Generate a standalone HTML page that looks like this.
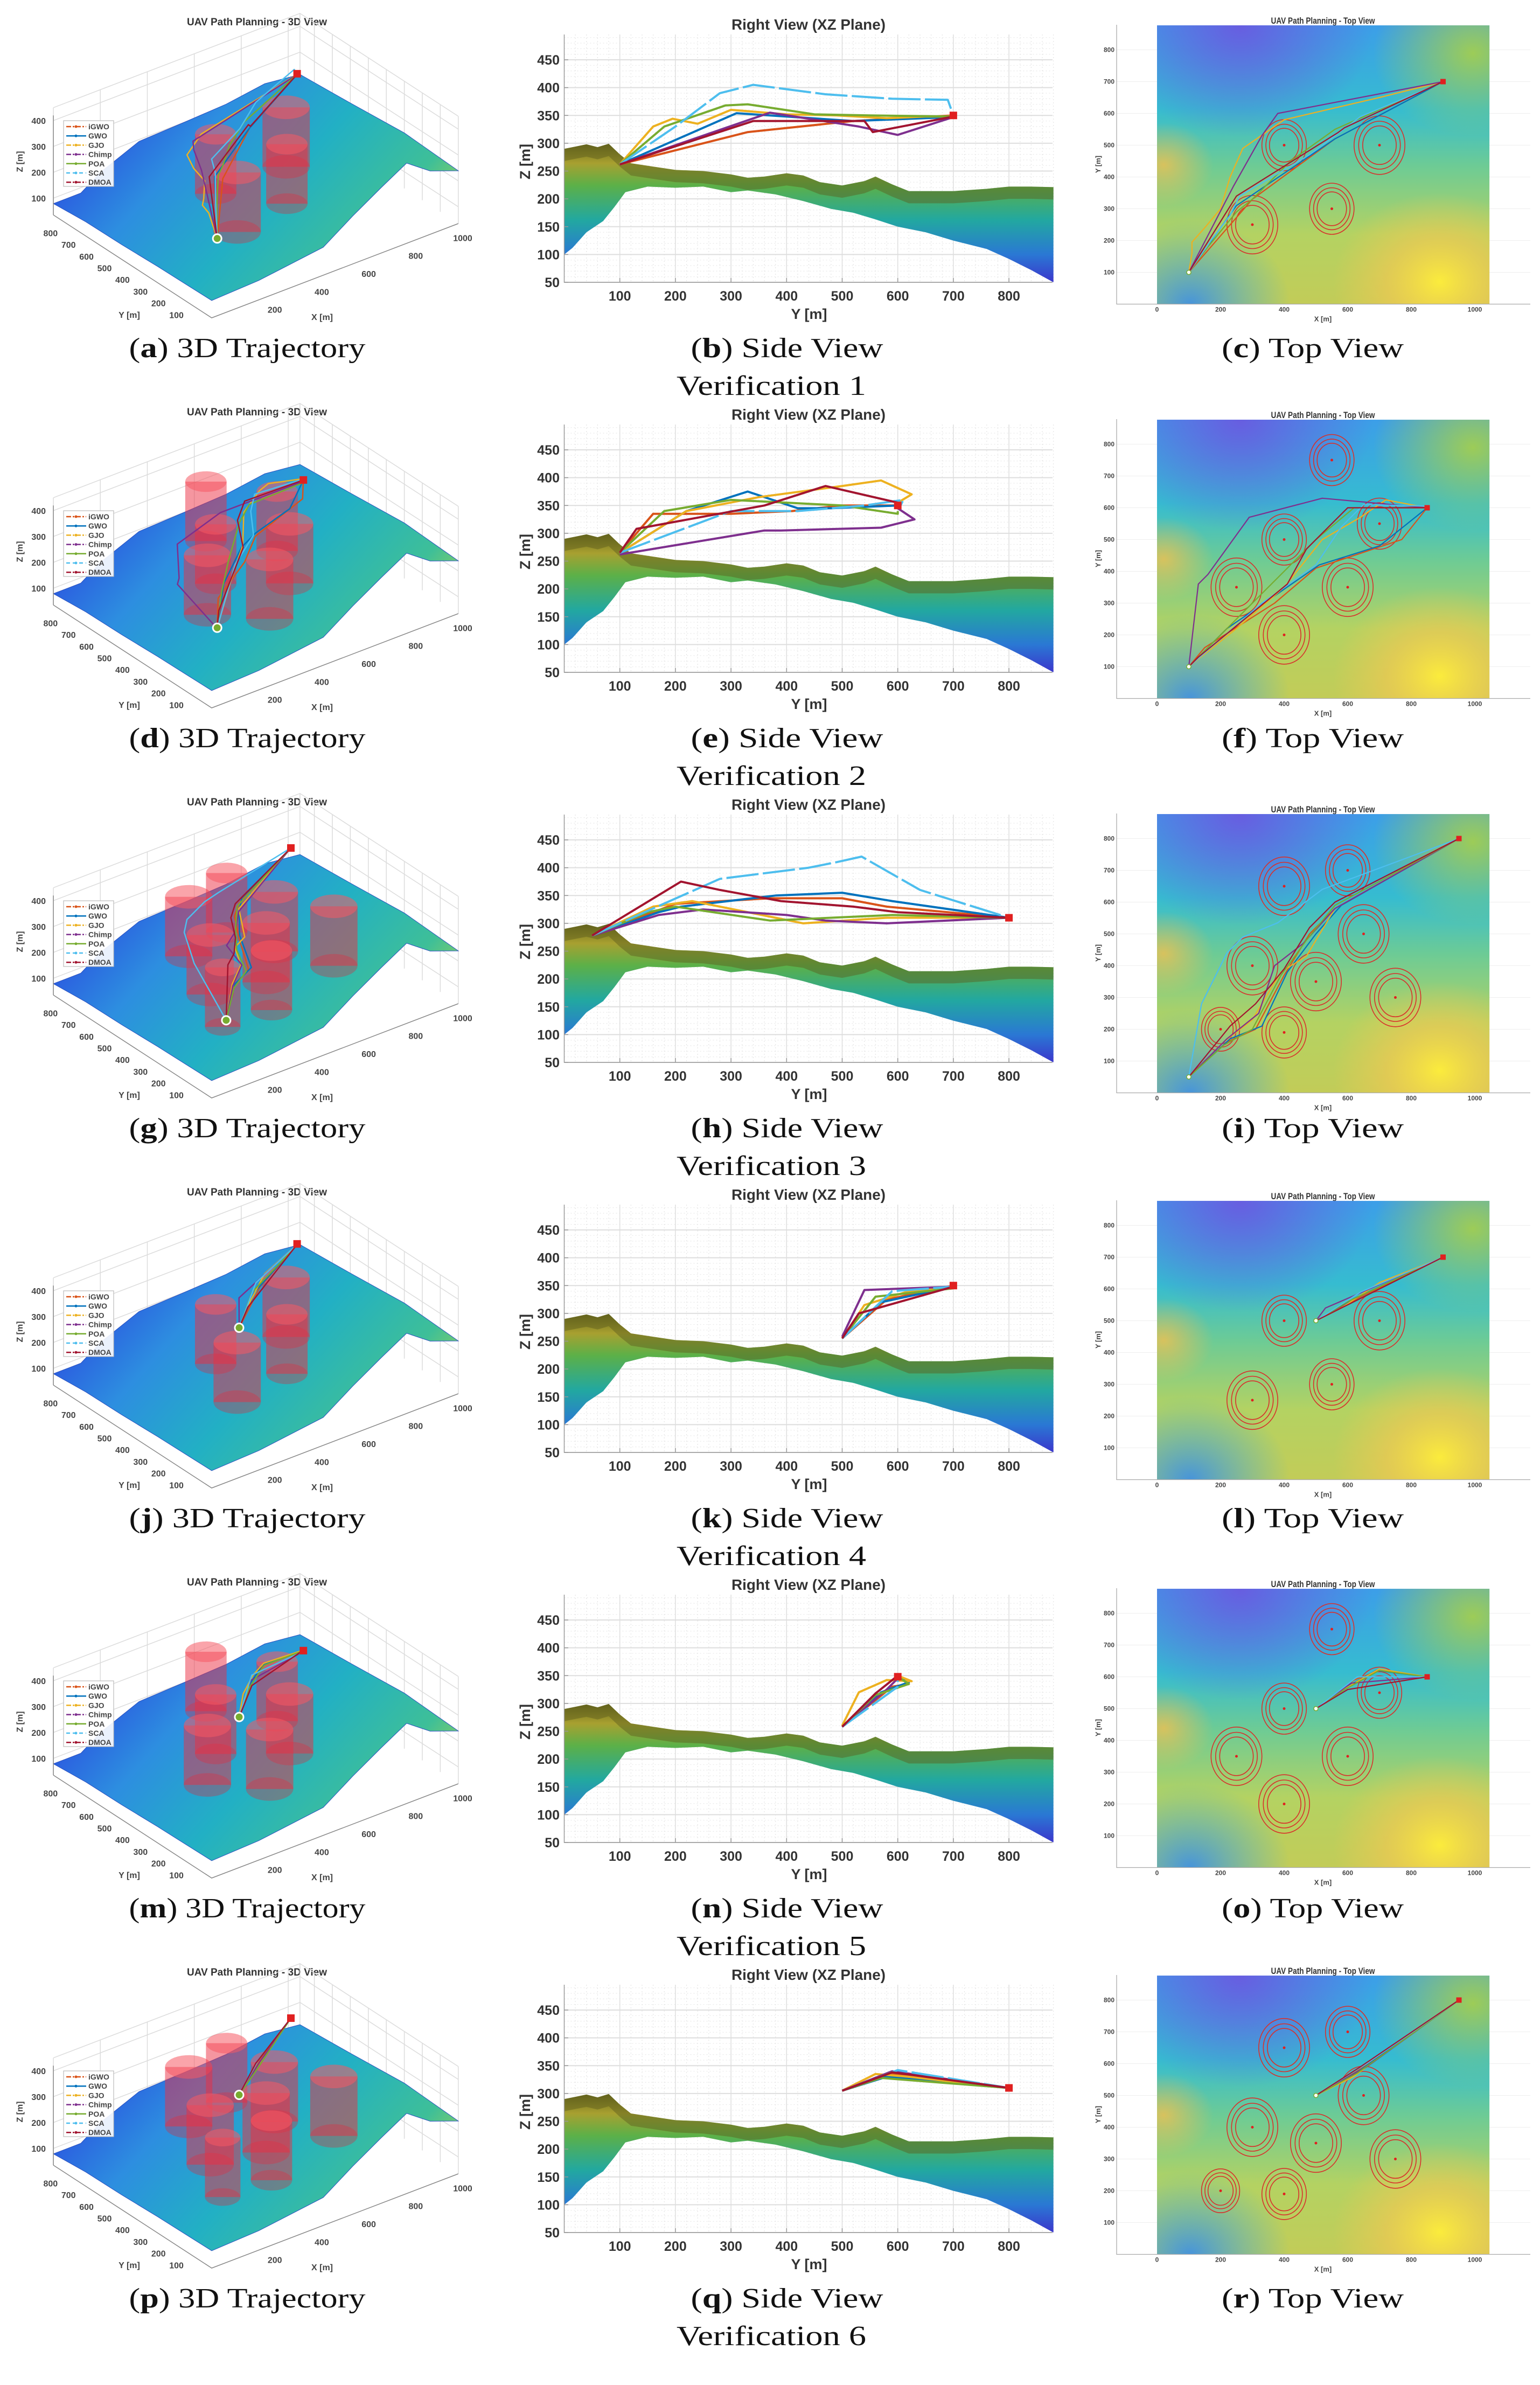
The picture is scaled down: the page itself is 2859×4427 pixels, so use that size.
<!DOCTYPE html>
<html>
<head>
<meta charset="utf-8">
<style>
html,body{margin:0;padding:0;background:#fff;}
svg{display:block;}
</style>
</head>
<body>
<svg id="fig" width="2859" height="4427" viewBox="0 0 2859 4427" xmlns="http://www.w3.org/2000/svg">
<defs>
  <linearGradient id="gSide" x1="0" y1="0" x2="0" y2="1">
    <stop offset="0" stop-color="#6b6a1c"/>
    <stop offset="0.14" stop-color="#a8a030"/>
    <stop offset="0.3" stop-color="#5cb048"/>
    <stop offset="0.55" stop-color="#22a8a0"/>
    <stop offset="0.8" stop-color="#2a78d4"/>
    <stop offset="1" stop-color="#3b36cc"/>
  </linearGradient>
  <linearGradient id="g3d" x1="0" y1="0.25" x2="1" y2="0.75">
    <stop offset="0" stop-color="#2a3ee0"/>
    <stop offset="0.3" stop-color="#2d8ee0"/>
    <stop offset="0.55" stop-color="#22b0c4"/>
    <stop offset="0.8" stop-color="#3ebf98"/>
    <stop offset="0.97" stop-color="#b0d646"/>
  </linearGradient>
  <linearGradient id="gTopBase" x1="0" y1="0" x2="0" y2="1">
    <stop offset="0" stop-color="#3c9ee8"/>
    <stop offset="0.3" stop-color="#36bcd0"/>
    <stop offset="0.5" stop-color="#6ccb96"/>
    <stop offset="0.75" stop-color="#b4d262"/>
    <stop offset="1" stop-color="#c2cc58"/>
  </linearGradient>
  <radialGradient id="gPurple" cx="0.25" cy="0" r="0.4">
    <stop offset="0" stop-color="#6a5ae0" stop-opacity="0.95"/>
    <stop offset="1" stop-color="#6a5ae0" stop-opacity="0"/>
  </radialGradient>
  <radialGradient id="gYellow" cx="0.85" cy="0.92" r="0.32">
    <stop offset="0" stop-color="#fbec3c" stop-opacity="1"/>
    <stop offset="0.5" stop-color="#f6c850" stop-opacity="0.6"/>
    <stop offset="1" stop-color="#f6c850" stop-opacity="0"/>
  </radialGradient>
  <radialGradient id="gOrange" cx="0.02" cy="0.5" r="0.15">
    <stop offset="0" stop-color="#f2c050" stop-opacity="0.8"/>
    <stop offset="1" stop-color="#f2c050" stop-opacity="0"/>
  </radialGradient>
  <radialGradient id="gBlueBL" cx="0.1" cy="1" r="0.3">
    <stop offset="0" stop-color="#3a8ee8" stop-opacity="0.9"/>
    <stop offset="1" stop-color="#30b0e0" stop-opacity="0"/>
  </radialGradient>
  <radialGradient id="gGreenTR" cx="0.95" cy="0.1" r="0.3">
    <stop offset="0" stop-color="#a8d048" stop-opacity="0.9"/>
    <stop offset="1" stop-color="#a8d048" stop-opacity="0"/>
  </radialGradient>
</defs>
</svg>
<script>
// ---------- data ----------
const ALGOS = ['iGWO','GWO','GJO','Chimp','POA','SCA','DMOA'];
const COLORS = ['#D95319','#0072BD','#EDB120','#7E2F8E','#77AC30','#4DBEEE','#A2142F'];
const LEGEND_DASH = ['9 3 3 3','','9 3 3 3','9 3 3 3','','7 5','9 3 3 3'];

const sideTicksY = [50,100,150,200,250,300,350,400,450];
const sideTicksX = [100,200,300,400,500,600,700,800];
const topTicksX = [0,200,400,600,800,1000];
const topTicksY = [100,200,300,400,500,600,700,800];
const d3TicksZ = [100,200,300,400];
const d3TicksY = [100,200,300,400,500,600,700,800];
const d3TicksX = [200,400,600,800,1000];

// side-view terrain profile (Y, Z)
const sideTerrainTop = [[0,290],[20,294],[40,298],[60,293],[80,299],[100,280],[120,264],[160,258],[200,252],[250,250],[300,244],[330,238],[360,240],[400,246],[430,242],[460,230],[500,224],[540,232],[560,240],[590,226],[620,214],[700,214],[760,218],[800,222],[840,222],[880,221]];
const sideTerrainBottom = [[880,50],[840,72],[800,92],[760,110],[700,125],[650,140],[600,150],[560,163],[520,175],[480,182],[430,196],[380,208],[330,215],[300,212],[250,222],[200,220],[150,222],[110,212],[90,185],[70,160],[40,140],[15,112],[0,100]];

// 3D terrain boundary (x, y, z)
const terrainEdge = [[0,880,79],[0,700,90],[0,500,92],[0,300,98],[0,150,100],[0,0,102],[200,0,110],[475,0,143],[600,0,220],[720,0,287],[830,0,345],[930,0,280],[1050,0,239],[1050,300,250],[1050,600,230],[1050,880,214],[900,880,230],[736,880,208],[560,880,200],[365,880,193],[200,880,130],[117,880,79]];

// per-row path waypoints [x, y, z] for each algorithm (order = ALGOS)
const paths1 = [
 [[100,100,262],[300,330,320],[560,520,340],[900,700,350]],
 [[100,100,262],[250,310,354],[560,520,340],[900,700,347]],
 [[100,100,262],[110,160,330],[110,195,344],[150,240,335],[200,300,360],[230,400,352],[270,490,350],[400,580,345],[700,650,348],[900,700,348]],
 [[100,100,262],[240,370,355],[330,530,330],[380,600,315],[900,700,347]],
 [[100,100,262],[160,180,330],[250,290,368],[300,330,370],[420,450,352],[560,550,350],[900,700,348]],
 [[100,100,262],[170,200,330],[230,280,390],[260,340,405],[480,470,388],[640,590,380],[880,690,378],[900,700,350]],
 [[100,100,262],[250,340,340],[570,540,340],[590,555,320],[900,700,348]]
];
const paths2 = [
 [[100,100,265],[150,160,335],[370,300,335],[500,410,340],[770,500,350],[850,600,350]],
 [[100,100,265],[220,220,340],[380,330,375],[510,420,345],[700,480,345],[850,600,350]],
 [[100,100,265],[250,220,340],[400,350,365],[520,500,385],[640,570,395],[720,625,370],[850,600,355]],
 [[100,100,262],[130,360,305],[160,390,305],[290,570,310],[520,630,325],[850,600,345]],
 [[100,100,265],[180,180,340],[300,300,360],[500,500,350],[620,600,335],[850,600,340]],
 [[100,100,265],[330,300,340],[500,420,340],[580,540,350],[650,610,360],[850,605,350]],
 [[100,100,265],[130,130,308],[410,360,350],[470,470,385],[600,600,355],[850,600,350]]
];
const paths3 = [
 [[100,50,278],[220,160,320],[310,200,335],[400,370,345],[480,500,345],[560,580,330],[950,800,310]],
 [[100,50,278],[230,170,320],[330,210,330],[410,380,350],[500,500,355],[580,590,340],[950,800,310]],
 [[100,50,278],[210,160,330],[300,230,340],[390,380,310],[470,430,300],[560,580,310],[950,800,310]],
 [[100,50,278],[220,170,315],[320,250,325],[370,400,315],[460,470,305],[560,580,300],[950,800,310]],
 [[100,50,278],[210,150,320],[300,200,330],[390,370,305],[470,480,310],[560,590,315],[950,800,310]],
 [[100,50,278],[140,280,380],[220,440,400],[270,490,410],[380,535,420],[520,640,360],[950,800,310]],
 [[100,50,278],[230,210,375],[310,280,360],[400,390,340],[480,520,330],[560,600,320],[950,800,310]]
];
const paths4 = [
 [[500,500,255],[650,580,325],[900,700,350]],
 [[500,500,255],[620,570,320],[900,700,348]],
 [[500,500,255],[580,540,315],[700,620,340],[900,700,348]],
 [[500,500,258],[530,540,342],[900,700,348]],
 [[500,500,255],[600,560,330],[900,700,345]],
 [[500,500,255],[640,590,340],[900,700,348]],
 [[500,500,255],[560,530,300],[900,700,348]]
];
const paths5 = [
 [[500,500,258],[620,590,330],[700,620,335],[850,600,348]],
 [[500,500,258],[600,570,320],[690,620,338],[850,600,348]],
 [[500,500,260],[540,530,320],[620,580,342],[700,625,340],[850,600,350]],
 [[500,500,258],[610,580,325],[850,600,345]],
 [[500,500,258],[590,560,315],[700,620,335],[850,600,348]],
 [[500,500,258],[630,600,330],[850,600,345]],
 [[500,500,258],[600,560,318],[850,600,350]]
];
const paths6 = [
 [[500,500,305],[650,590,335],[950,800,310]],
 [[500,500,305],[640,580,330],[950,800,310]],
 [[500,500,305],[620,560,335],[700,620,330],[950,800,310]],
 [[500,500,305],[660,590,340],[950,800,310]],
 [[500,500,305],[630,570,328],[950,800,310]],
 [[500,500,305],[660,600,342],[950,800,310]],
 [[500,500,305],[640,590,338],[950,800,310]]
];
// obstacles [x, y, outer radius]
const obstacles1 = [[400,500,70],[700,500,80],[300,250,80],[550,300,70]];
const obstacles2 = [[550,750,70],[400,500,70],[700,550,70],[250,350,80],[600,350,80],[400,200,80]];
const obstacles3 = [[400,650,80],[600,700,70],[300,400,80],[650,500,80],[500,350,80],[750,300,80],[200,200,60],[400,190,70]];
const obstacles4 = [[400,500,70],[700,500,80],[300,250,80],[550,300,70]];
const obstacles5 = [[550,750,70],[400,500,70],[700,550,70],[250,350,80],[600,350,80],[400,200,80]];
const obstacles6 = [[400,650,80],[600,700,70],[300,400,80],[650,500,80],[500,350,80],[750,300,80],[200,200,60],[400,190,70]];

const ROWS = [
 {paths: paths1, obs: obstacles1},
 {paths: paths2, obs: obstacles2},
 {paths: paths3, obs: obstacles3},
 {paths: paths4, obs: obstacles4},
 {paths: paths5, obs: obstacles5},
 {paths: paths6, obs: obstacles6}
];
const LETTERS = [['a','b','c'],['d','e','f'],['g','h','i'],['j','k','l'],['m','n','o'],['p','q','r']];
const TOPSHIFT = [0,8,16,10,6,0];
const ROW_H = 724;
const CYL_BOTTOM = 150, CYL_TOP = 380;

// ---------- helpers ----------
const NS = 'http://www.w3.org/2000/svg';
const svg = document.getElementById('fig');
function mk(tag, attrs, parent) {
  const e = document.createElementNS(NS, tag);
  for (const k in attrs) e.setAttribute(k, attrs[k]);
  (parent || svg).appendChild(e);
  return e;
}
function txt(str, attrs, parent) {
  const e = mk('text', attrs, parent);
  e.textContent = str;
  return e;
}
const SANS = '"Liberation Sans", Arial, sans-serif';
const SERIF = '"Liberation Serif", "DejaVu Serif", serif';
function ptsStr(arr) { return arr.map(p => p[0].toFixed(1) + ',' + p[1].toFixed(1)).join(' '); }

// ---------- build each row ----------
ROWS.forEach((row, r) => {
  const off = r * ROW_H;
  const rowG = mk('g', {});
  
  

  // ===== 3D view =====
  const px = (x, y, z) => 393 + 0.436 * x - 0.334 * y;
  const py = (x, y, z) => off + 590 - 0.1667 * x - 0.217 * y - (z - 35) * 0.48;
  const P = (x, y, z) => [px(x, y, z), py(x, y, z)];
  const g3 = mk('g', {}, rowG);
  
  

  const t3 = txt('UAV Path Planning - 3D View', {x: 477, y: off + 47, 'text-anchor': 'middle', 'font-family': SANS, 'font-size': 19, 'font-weight': 'bold', fill: '#333'}, g3);
  
  

  const grid3 = mk('g', {stroke: '#dcdcdc', 'stroke-width': 1.5, fill: 'none'}, g3);
  
  
  [[0,880],[1050,880],[1050,0]].forEach(c => {
    mk('line', {x1: px(c[0],c[1],35), y1: py(c[0],c[1],35), x2: px(c[0],c[1],450), y2: py(c[0],c[1],450)}, grid3);
  });
  d3TicksZ.forEach(z => {
    mk('polyline', {points: ptsStr([P(0,880,z),P(1050,880,z),P(1050,0,z)])}, grid3);
  });
  d3TicksX.forEach(x => { mk('line', {x1: px(x,880,35), y1: py(x,880,35), x2: px(x,880,450), y2: py(x,880,450)}, grid3); });
  d3TicksY.forEach(y => { mk('line', {x1: px(1050,y,35), y1: py(1050,y,35), x2: px(1050,y,450), y2: py(1050,y,450)}, grid3); });
  mk('polyline', {points: ptsStr([P(0,880,450),P(1050,880,450),P(1050,0,450)])}, grid3);

  const terr = mk('polygon', {points: ptsStr(terrainEdge.map(p => P(p[0], p[1], p[2]))), fill: 'url(#g3d)', stroke: '#2a50c0', 'stroke-width': 1}, g3);
  
  

  row.obs.forEach((o, i) => {
    const cg = mk('g', {}, g3);
    
    
    const ring = (z) => { const a = []; for (let k = 0; k < 36; k++) { const t = k / 36 * Math.PI * 2; a.push(P(o[0] + o[2] * Math.cos(t), o[1] + o[2] * Math.sin(t), z)); } return a; };
    const w = 0.549 * o[2];
    const cx = px(o[0], o[1], 0);
    mk('polygon', {points: ptsStr(ring(CYL_BOTTOM)), fill: 'rgba(220,40,60,0.35)'}, cg);
    mk('rect', {x: cx - w, y: py(o[0], o[1], CYL_TOP), width: 2 * w, height: py(o[0], o[1], CYL_BOTTOM) - py(o[0], o[1], CYL_TOP), fill: 'rgba(235,45,65,0.5)'}, cg);
    mk('polygon', {points: ptsStr(ring(CYL_TOP)), fill: 'rgba(245,90,100,0.55)'}, cg);
  });

  row.paths.forEach((pth, i) => {
    const l = mk('polyline', {points: ptsStr(pth.map(p => P(p[0], p[1], p[2]))), fill: 'none', stroke: COLORS[i], 'stroke-width': 2.5, 'stroke-linejoin': 'round'}, g3);
    
    
  });
  const s0 = row.paths[0][0], e0 = row.paths[0][row.paths[0].length - 1];
  const st3 = mk('circle', {cx: px(s0[0],s0[1],s0[2]), cy: py(s0[0],s0[1],s0[2]), r: 8, fill: '#77AC30', stroke: '#fff', 'stroke-width': 3}, g3);
  
  
  const gl3 = mk('rect', {x: px(e0[0],e0[1],e0[2]) - 7, y: py(e0[0],e0[1],e0[2]) - 7, width: 14, height: 14, fill: '#e02020'}, g3);
  
  

  const ax3 = mk('g', {stroke: '#888', 'stroke-width': 1.5, fill: 'none'}, g3);
  
  
  mk('polyline', {points: ptsStr([P(0,880,35),P(0,0,35),P(1050,0,35)])}, ax3);
  mk('line', {x1: px(0,880,35), y1: py(0,880,35), x2: px(0,880,420), y2: py(0,880,420)}, ax3);
  const tk3 = mk('g', {'font-family': SANS, 'font-size': 16, 'font-weight': 'bold', fill: '#444'}, g3);
  
  
  d3TicksZ.forEach(z => { txt(String(z), {x: px(0,880,z) - 14, y: py(0,880,z) + 6, 'text-anchor': 'end'}, tk3); });
  d3TicksY.forEach(y => { txt(String(y), {x: px(0,y,35) - 32, y: py(0,y,35) + 22, 'text-anchor': 'middle'}, tk3); });
  d3TicksX.forEach(x => { txt(String(x), {x: px(x,0,35) + 30, y: py(x,0,35) + 24, 'text-anchor': 'middle'}, tk3); });
  const zl = txt('Z [m]', {x: 0, y: 0, 'text-anchor': 'middle', transform: 'translate(42,' + (off + 300) + ') rotate(-90)'}, tk3);
  
  
  const yl = txt('Y [m]', {x: 240, y: off + 590, 'text-anchor': 'middle'}, tk3);
  
  
  const xl = txt('X [m]', {x: 598, y: off + 594, 'text-anchor': 'middle'}, tk3);
  
  

  const lg = mk('g', {}, g3);
  
  
  mk('rect', {x: 118, y: off + 224, width: 93, height: 122, fill: '#fff', 'fill-opacity': 0.9, stroke: '#bbb', 'stroke-width': 1.2}, lg);
  ALGOS.forEach((a, i) => {
    const ey = off + 235 + i * 17.2;
    const ent = mk('g', {}, lg);
    
    
    mk('line', {x1: 123, y1: ey, x2: 160, y2: ey, stroke: COLORS[i], 'stroke-width': 2.5, 'stroke-dasharray': LEGEND_DASH[i]}, ent);
    mk('circle', {cx: 141, cy: ey, r: 2.5, fill: COLORS[i]}, ent);
    txt(a, {x: 164, y: ey + 5, 'font-family': SANS, 'font-size': 14, 'font-weight': 'bold', fill: '#444'}, ent);
  });

  // ===== Side view =====
  const sx = v => 1047.5 + v * 1.032;
  const sy = v => off + 524 - (v - 50) * 1.0325;
  const gs = mk('g', {}, rowG);
  
  
  const ts = txt('Right View (XZ Plane)', {x: 1501, y: off + 55, 'text-anchor': 'middle', 'font-family': SANS, 'font-size': 28, 'font-weight': 'bold', fill: '#333', textLength: 286, lengthAdjust: 'spacingAndGlyphs'}, gs);
  
  
  const gg = mk('g', {}, gs);
  
  
  for (let v = 20; v <= 880; v += 20) mk('line', {x1: sx(v), y1: off + 64, x2: sx(v), y2: off + 524, stroke: '#e4e4e4', 'stroke-width': 1.2, 'stroke-dasharray': '2 4'}, gg);
  for (let v = 60; v <= 495; v += 10) mk('line', {x1: 1047.5, y1: sy(v), x2: 1954, y2: sy(v), stroke: '#e8e8e8', 'stroke-width': 1.2, 'stroke-dasharray': '2 4'}, gg);
  sideTicksX.forEach(v => mk('line', {x1: sx(v), y1: off + 64, x2: sx(v), y2: off + 524, stroke: '#dedede', 'stroke-width': 1.5}, gg));
  sideTicksY.forEach(v => mk('line', {x1: 1047.5, y1: sy(v), x2: 1954, y2: sy(v), stroke: '#dedede', 'stroke-width': 2}, gg));

  const terrPts = sideTerrainTop.concat(sideTerrainBottom).map(p => [sx(p[0]), sy(p[1])]);
  const st = mk('polygon', {points: ptsStr(terrPts), fill: 'url(#gSide)'}, gs);
  
  
  const ridge = sideTerrainTop.map(p => [sx(p[0]), sy(p[1])]).concat(sideTerrainTop.slice().reverse().map(p => [sx(p[0]), sy(p[1] - 22)]));
  mk('polygon', {points: ptsStr(ridge), fill: '#5a5a1c', 'fill-opacity': 0.45}, gs);

  row.paths.forEach((pth, i) => {
    const l = mk('polyline', {points: ptsStr(pth.map(p => [sx(p[1]), sy(p[2])])), fill: 'none', stroke: COLORS[i], 'stroke-width': 4, 'stroke-linejoin': 'round', 'stroke-dasharray': i === 5 ? '60 8' : ''}, gs);
    
    
  });
  const sgl = mk('rect', {x: sx(e0[1]) - 7, y: sy(e0[2]) - 7, width: 14, height: 14, fill: '#e02020'}, gs);
  
  

  const sax = mk('g', {stroke: '#999', 'stroke-width': 1.5, fill: 'none'}, gs);
  
  
  mk('polyline', {points: ptsStr([[1047.5, off + 64], [1047.5, off + 524], [1954, off + 524]])}, sax);
  sideTicksX.forEach(v => mk('line', {x1: sx(v), y1: off + 524, x2: sx(v), y2: off + 516}, sax));
  sideTicksY.forEach(v => mk('line', {x1: 1047.5, y1: sy(v), x2: 1055, y2: sy(v)}, sax));
  const stk = mk('g', {'font-family': SANS, 'font-size': 25, 'font-weight': 'bold', fill: '#333'}, gs);
  
  
  sideTicksY.forEach(v => txt(String(v), {x: 1039, y: sy(v) + 9, 'text-anchor': 'end'}, stk));
  sideTicksX.forEach(v => txt(String(v), {x: sx(v), y: off + 558, 'text-anchor': 'middle'}, stk));
  const sxl = txt('Y [m]', {x: 1502, y: off + 592, 'text-anchor': 'middle', 'font-size': 27}, stk);
  
  
  const syl = txt('Z [m]', {x: 0, y: 0, 'text-anchor': 'middle', 'font-size': 27, transform: 'translate(984,' + (off + 300) + ') rotate(-90)'}, stk);
  
  

  // ===== Top view =====
  const toff = off + TOPSHIFT[r];
  const tx = v => 2148 + v * 0.59;
  const ty = v => toff + 564.5 - v * 0.59;
  const gt = mk('g', {}, rowG);
  
  
  const tt = txt('UAV Path Planning - Top View', {x: 2456, y: toff + 44, 'text-anchor': 'middle', 'font-family': SANS, 'font-size': 17, 'font-weight': 'bold', fill: '#333', textLength: 193, lengthAdjust: 'spacingAndGlyphs'}, gt);
  
  
  const tgrid = mk('g', {stroke: '#eeeeee', 'stroke-width': 1}, gt);
  
  
  topTicksY.forEach(v => mk('line', {x1: 2073, y1: ty(v), x2: 2841, y2: ty(v)}, tgrid));
  const ix = tx(0), iy = ty(877), iw = tx(1046) - tx(0), ih = ty(0) - ty(877);
  const img = mk('g', {}, gt);
  
  
  ['gTopBase','gBlueBL','gOrange','gGreenTR','gYellow','gPurple'].forEach(g => mk('rect', {x: ix, y: iy, width: iw, height: ih, fill: 'url(#' + g + ')'}, img));

  row.obs.forEach((o, i) => {
    const og = mk('g', {fill: 'none', stroke: '#d8302c', 'stroke-width': 1.6}, gt);
    
    
    [1, 0.82, 0.66].forEach(f => mk('ellipse', {cx: tx(o[0]), cy: ty(o[1]), rx: o[2] * f * 0.59, ry: o[2] * f * 0.59 * 1.15}, og));
    mk('circle', {cx: tx(o[0]), cy: ty(o[1]), r: 2.5, fill: '#e02020', stroke: 'none'}, og);
  });
  row.paths.forEach((pth, i) => {
    const l = mk('polyline', {points: ptsStr(pth.map(p => [tx(p[0]), ty(p[1])])), fill: 'none', stroke: COLORS[i], 'stroke-width': 2.2, 'stroke-linejoin': 'round'}, gt);
    
    
  });
  const tst = mk('circle', {cx: tx(s0[0]), cy: ty(s0[1]), r: 4, fill: '#fff', stroke: '#77AC30', 'stroke-width': 1.5}, gt);
  
  
  const tgl = mk('rect', {x: tx(e0[0]) - 5, y: ty(e0[1]) - 5, width: 10, height: 10, fill: '#e02020'}, gt);
  
  

  const tax = mk('g', {stroke: '#aaa', 'stroke-width': 1.3, fill: 'none'}, gt);
  
  
  mk('polyline', {points: ptsStr([[2073, toff + 46], [2073, ty(0)], [2841, ty(0)]])}, tax);
  const ttk = mk('g', {'font-family': SANS, 'font-size': 12, 'font-weight': 'bold', fill: '#444'}, gt);
  
  
  topTicksY.forEach(v => txt(String(v), {x: 2069, y: ty(v) + 4, 'text-anchor': 'end'}, ttk));
  topTicksX.forEach(v => txt(String(v), {x: tx(v), y: ty(0) + 14, 'text-anchor': 'middle'}, ttk));
  const txl = txt('X [m]', {x: 2456, y: ty(0) + 32, 'text-anchor': 'middle', 'font-size': 13}, ttk);
  
  
  const tyl = txt('Y [m]', {x: 0, y: 0, 'text-anchor': 'middle', 'font-size': 13, transform: 'translate(2043,' + (toff + 305) + ') rotate(-90)'}, ttk);
  
  

  // ===== captions =====
  const capData = [[459, ' 3D Trajectory', 439], [1461, ' Side View', 357], [2437, ' Top View', 338]];
  capData.forEach((c, k) => {
    const t = mk('text', {x: c[0], y: off + 663, 'text-anchor': 'middle', 'font-family': SERIF, 'font-size': 52, fill: '#111', textLength: c[2], lengthAdjust: 'spacingAndGlyphs'}, rowG);
    
    
    const s1 = document.createElementNS(NS, 'tspan'); s1.textContent = '('; t.appendChild(s1);
    const s2 = document.createElementNS(NS, 'tspan'); s2.setAttribute('font-weight', 'bold'); s2.textContent = LETTERS[r][k]; t.appendChild(s2);
    const s3 = document.createElementNS(NS, 'tspan'); s3.textContent = ')' + c[1]; t.appendChild(s3);
  });
  const vt = txt('Verification ' + (r + 1), {x: 1432, y: off + 733, 'text-anchor': 'middle', 'font-family': SERIF, 'font-size': 52, fill: '#111', textLength: 352, lengthAdjust: 'spacingAndGlyphs'}, rowG);
  
  
});
</script>
</body>
</html>
